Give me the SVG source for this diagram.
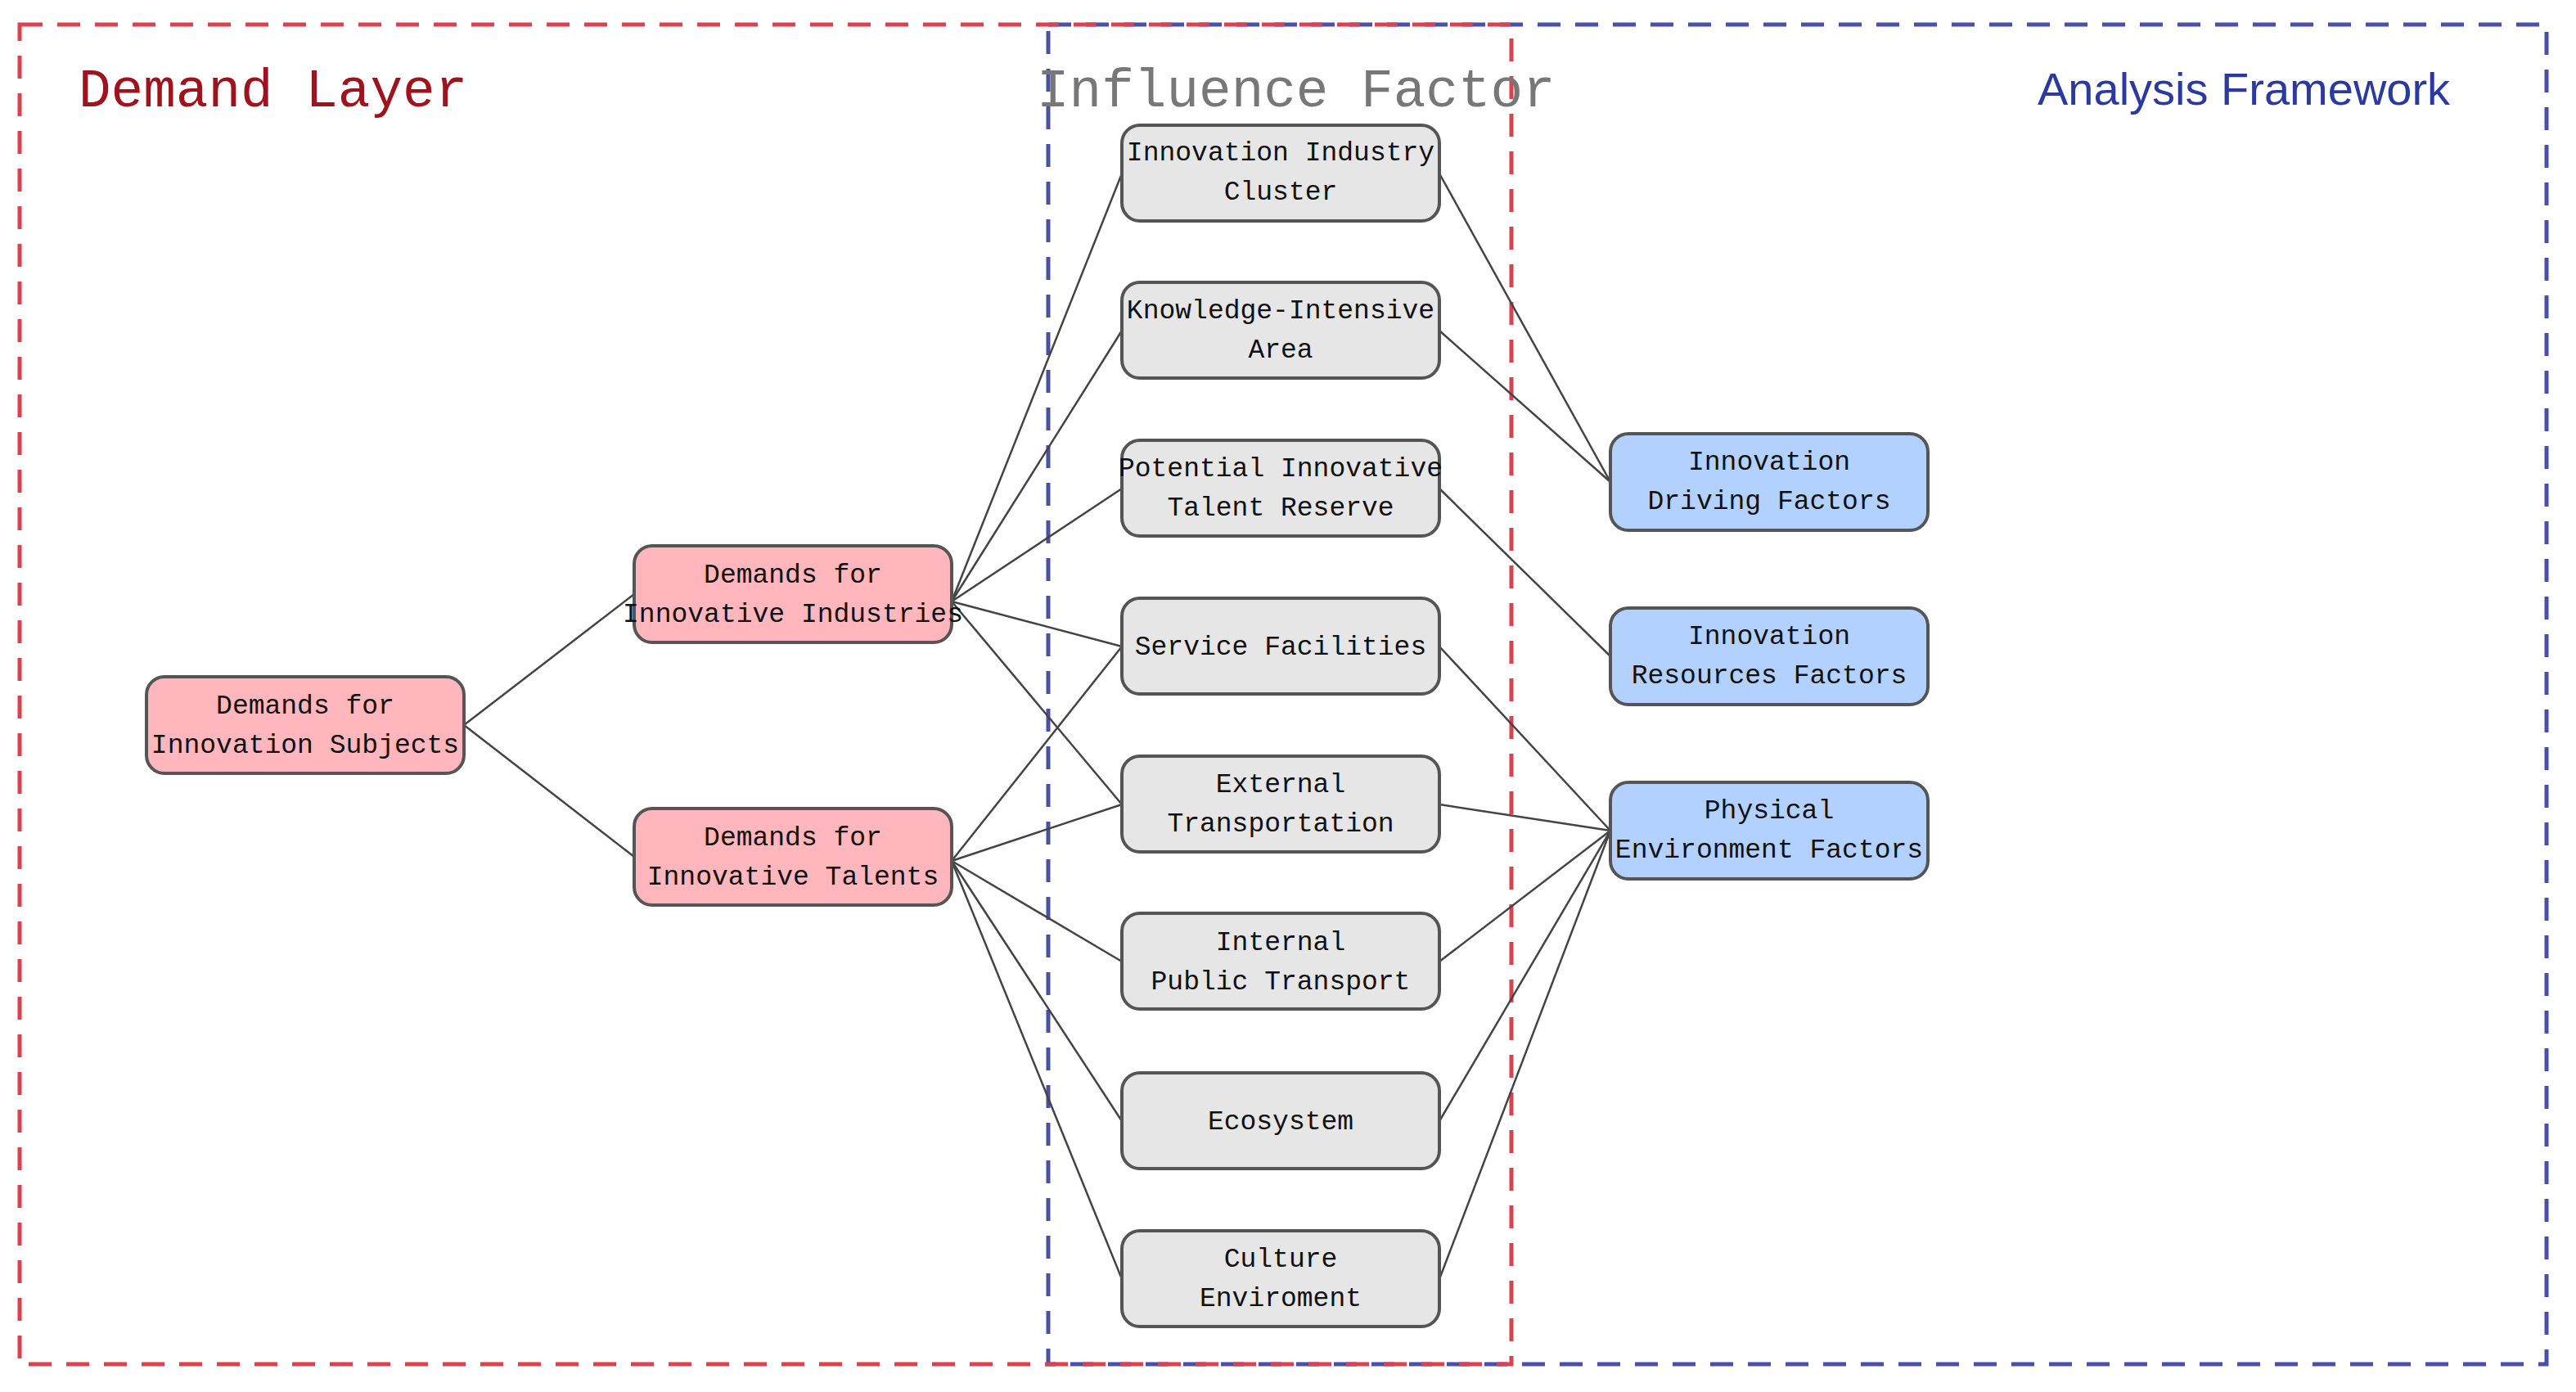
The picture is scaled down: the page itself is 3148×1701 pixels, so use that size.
<svg xmlns="http://www.w3.org/2000/svg" width="3148" height="1701" viewBox="0 0 3148 1701">
<style>
.n rect{stroke:#555;stroke-width:4}
.p rect{fill:#ffb6bd}.g rect{fill:#e6e6e6}.b rect{fill:#b3d1ff}
.n text{font-family:"Liberation Mono",monospace;font-size:33px;fill:#111;text-anchor:middle}
#edges line{stroke:#444;stroke-width:2.5}
.frame{fill:none;stroke-width:5;stroke-dasharray:28 18}
</style>
<rect width="3148" height="1701" fill="#fff"/>
<rect class="frame" x="1281" y="30" width="1831" height="1637" stroke="#4a4fa8"/>
<rect class="frame" x="24" y="30" width="1823" height="1637" stroke="#d9434f"/>
<text x="96" y="130" font-family="Liberation Mono,monospace" font-size="66" fill="#a0121c">Demand Layer</text>
<text x="1267" y="130" font-family="Liberation Mono,monospace" font-size="66" fill="#777">Influence Factor</text>
<text x="2490" y="128" font-family="Liberation Sans,sans-serif" font-size="56" fill="#2b3a9e">Analysis Framework</text>
<g id="edges">
<line x1="567" y1="886" x2="775" y2="726"/>
<line x1="567" y1="886" x2="775" y2="1047"/>
<line x1="1163" y1="735" x2="1371" y2="212"/>
<line x1="1163" y1="735" x2="1371" y2="404"/>
<line x1="1163" y1="735" x2="1371" y2="597"/>
<line x1="1163" y1="735" x2="1371" y2="790"/>
<line x1="1163" y1="735" x2="1371" y2="983"/>
<line x1="1163" y1="1052" x2="1371" y2="790"/>
<line x1="1163" y1="1052" x2="1371" y2="983"/>
<line x1="1163" y1="1052" x2="1371" y2="1175"/>
<line x1="1163" y1="1052" x2="1371" y2="1370"/>
<line x1="1163" y1="1052" x2="1371" y2="1563"/>
<line x1="1759" y1="212" x2="1968" y2="589"/>
<line x1="1759" y1="404" x2="1968" y2="589"/>
<line x1="1759" y1="597" x2="1968" y2="802"/>
<line x1="1759" y1="790" x2="1968" y2="1015"/>
<line x1="1759" y1="983" x2="1968" y2="1015"/>
<line x1="1759" y1="1175" x2="1968" y2="1015"/>
<line x1="1759" y1="1370" x2="1968" y2="1015"/>
<line x1="1759" y1="1563" x2="1968" y2="1015"/>
</g>
<g id="n-subjects" class="n p"><rect x="179" y="827" width="388" height="118" rx="22"/><text x="373" y="872">Demands for</text><text x="373" y="920">Innovation Subjects</text></g>
<g id="n-industries" class="n p"><rect x="775" y="667" width="388" height="118" rx="22"/><text x="969" y="712">Demands for</text><text x="969" y="760">Innovative Industries</text></g>
<g id="n-talents" class="n p"><rect x="775" y="988" width="388" height="118" rx="22"/><text x="969" y="1033">Demands for</text><text x="969" y="1081">Innovative Talents</text></g>
<g id="n-cluster" class="n g"><rect x="1371" y="153" width="388" height="117" rx="22"/><text x="1565" y="196">Innovation Industry</text><text x="1565" y="244">Cluster</text></g>
<g id="n-knowledge" class="n g"><rect x="1371" y="345" width="388" height="117" rx="22"/><text x="1565" y="389">Knowledge-Intensive</text><text x="1565" y="437">Area</text></g>
<g id="n-potential" class="n g"><rect x="1371" y="538" width="388" height="117" rx="22"/><text x="1565" y="582">Potential Innovative</text><text x="1565" y="630">Talent Reserve</text></g>
<g id="n-service" class="n g"><rect x="1371" y="731" width="388" height="117" rx="22"/><text x="1565" y="800">Service Facilities</text></g>
<g id="n-external" class="n g"><rect x="1371" y="924" width="388" height="117" rx="22"/><text x="1565" y="968">External</text><text x="1565" y="1016">Transportation</text></g>
<g id="n-internal" class="n g"><rect x="1371" y="1116" width="388" height="117" rx="22"/><text x="1565" y="1161">Internal</text><text x="1565" y="1209">Public Transport</text></g>
<g id="n-ecosystem" class="n g"><rect x="1371" y="1311" width="388" height="117" rx="22"/><text x="1565" y="1380">Ecosystem</text></g>
<g id="n-culture" class="n g"><rect x="1371" y="1504" width="388" height="117" rx="22"/><text x="1565" y="1548">Culture</text><text x="1565" y="1596">Enviroment</text></g>
<g id="n-driving" class="n b"><rect x="1968" y="530" width="388" height="118" rx="22"/><text x="2162" y="574">Innovation</text><text x="2162" y="622">Driving Factors</text></g>
<g id="n-resources" class="n b"><rect x="1968" y="743" width="388" height="118" rx="22"/><text x="2162" y="787">Innovation</text><text x="2162" y="835">Resources Factors</text></g>
<g id="n-physical" class="n b"><rect x="1968" y="956" width="388" height="118" rx="22"/><text x="2162" y="1000">Physical</text><text x="2162" y="1048">Environment Factors</text></g>
</svg>
